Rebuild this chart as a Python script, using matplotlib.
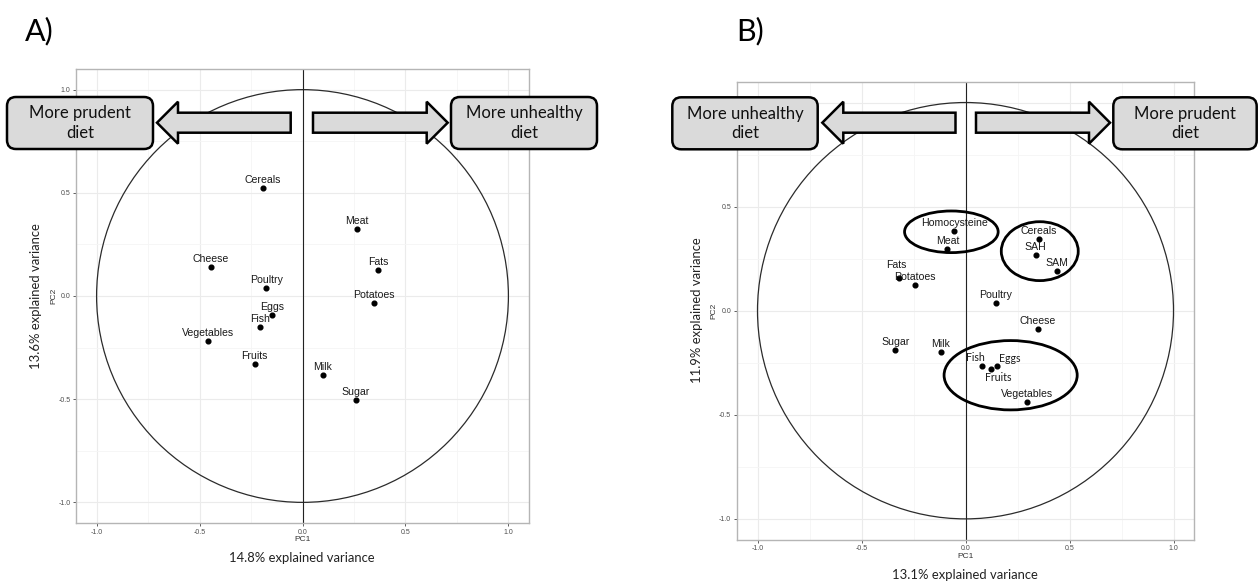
import numpy as np
import matplotlib
matplotlib.use("Agg")
import matplotlib.pyplot as plt
from matplotlib.patches import Circle, Ellipse, FancyBboxPatch, Polygon

# ---- data ----
foods_a = ["Cereals", "Meat", "Cheese", "Fats", "Poultry", "Potatoes",
           "Eggs", "Fish", "Vegetables", "Fruits", "Milk", "Sugar"]
pc1_a = [-0.194, 0.265, -0.445, 0.366, -0.176, 0.348,
         -0.147, -0.204, -0.460, -0.233, 0.099, 0.259]
pc2_a = [0.521, 0.324, 0.142, 0.126, 0.039, -0.034,
         -0.094, -0.149, -0.218, -0.330, -0.382, -0.505]

foods_b = ["Homocysteine", "Meat", "Cereals", "SAH", "SAM", "Fats", "Potatoes",
           "Poultry", "Cheese", "Sugar", "Milk", "Fish", "Fruits", "Eggs",
           "Vegetables"]
pc1_b = [-0.054, -0.087, 0.351, 0.337, 0.438, -0.321, -0.244,
         0.146, 0.349, -0.338, -0.119, 0.080, 0.123, 0.152, 0.298]
pc2_b = [0.385, 0.295, 0.346, 0.268, 0.191, 0.158, 0.125,
         0.037, -0.087, -0.190, -0.196, -0.268, -0.278, -0.268, -0.440]

# groups circled in panel B
ell_x = [-0.068, 0.357, 0.217]
ell_y = [0.379, 0.286, -0.310]
ell_w = [0.45, 0.37, 0.64]
ell_h = [0.20, 0.283, 0.333]

var_a = ("14.8% explained variance", "13.6% explained variance")
var_b = ("13.1% explained variance", "11.9% explained variance")
ticks = [-1.0, -0.5, 0.0, 0.5, 1.0]

W, H = 1258, 586
ARIAL = "Liberation Sans"
CALIBRI = "Lato"

fig = plt.figure(figsize=(W / 100, H / 100), dpi=100)


def fx(px):
    return px / W


def fy(py):
    return 1 - py / H


def loading_panel(rect, names, xs, ys, offsets=None, alt_font=()):
    ax = fig.add_axes(rect)
    ax.set_xlim(-1.1, 1.1)
    ax.set_ylim(-1.1, 1.1)
    ax.set_xticks(ticks)
    ax.set_yticks(ticks)
    ax.set_xticklabels([f"{t:.1f}" for t in ticks])
    ax.set_yticklabels([f"{t:.1f}" for t in ticks])
    ax.set_xticks([-0.75, -0.25, 0.25, 0.75], minor=True)
    ax.set_yticks([-0.75, -0.25, 0.25, 0.75], minor=True)
    ax.grid(True, which="major", color="#EBEBEB", lw=0.8)
    ax.grid(True, which="minor", color="#F5F5F5", lw=0.6)
    ax.set_axisbelow(True)
    ax.tick_params(which="major", length=2.5, width=0.6, color="#444444",
                   labelsize=5, labelcolor="#4D4D4D", pad=1.5)
    ax.tick_params(which="minor", length=0)
    for lab in ax.get_xticklabels() + ax.get_yticklabels():
        lab.set_family(ARIAL)
    for s in ax.spines.values():
        s.set_color("#B5B5B5")
        s.set_linewidth(1.0)
    ax.set_xlabel("PC1", fontsize=6, family=ARIAL, color="#333333", labelpad=0.5)
    ax.set_ylabel("PC2", fontsize=6, family=ARIAL, color="#333333", labelpad=1)

    ax.add_patch(Circle((0, 0), 1.0, fill=False, ec="#2B2B2B", lw=0.9, zorder=2))
    ax.axvline(0, color="#222222", lw=0.8, zorder=2)
    ax.plot(xs, ys, "o", color="black", ms=3.4, zorder=4)
    offsets = offsets or {}
    for n, x, y in zip(names, xs, ys):
        dx, dy = offsets.get(n, (0, 8))
        fam = CALIBRI if n in alt_font else ARIAL
        ax.annotate(n, (x, y), xytext=(dx, dy), textcoords="offset pixels",
                    ha="center", va="center", fontsize=7.6, family=fam,
                    color="#1A1A1A", zorder=5)
    return ax


ax_a = loading_panel([fx(76), fy(523), fx(529) - fx(76), fy(69) - fy(523)],
                     foods_a, pc1_a, pc2_a)

ax_b = loading_panel([fx(736.7), fy(539.7), fx(1194.3) - fx(736.7), fy(81.7) - fy(539.7)],
                     foods_b, pc1_b, pc2_b,
                     offsets={"Fats": (-2, 13), "Fish": (-7, 9), "Eggs": (13, 8), "Fruits": (7, -9)},
                     alt_font=("Fish", "Eggs", "Fruits"))
for cx, cy, w, h in zip(ell_x, ell_y, ell_w, ell_h):
    ax_b.add_patch(Ellipse((cx, cy), w, h, fill=False, ec="black", lw=2.0, zorder=3))

# explained-variance captions
cap = dict(ha="center", va="center", fontsize=9.4, family=CALIBRI, color="#222222")
fig.text(fx(302), fy(558), var_a[0], **cap)
fig.text(fx(36), fy(296), var_a[1], rotation=90, **cap)
fig.text(fx(965), fy(575), var_b[0], **cap)
fig.text(fx(697), fy(310), var_b[1], rotation=90, **cap)

fig.text(fx(25), fy(31), "A)", ha="left", va="center", fontsize=22, family=CALIBRI)
fig.text(fx(736), fy(31), "B)", ha="left", va="center", fontsize=22, family=CALIBRI)

# overlay in pixel space for the diet boxes and block arrows
ov = fig.add_axes([0, 0, 1, 1], zorder=10)
ov.set_xlim(0, W)
ov.set_ylim(H, 0)
ov.axis("off")
ov.patch.set_alpha(0)


def box(x, y, w, h, text):
    ov.add_patch(FancyBboxPatch((x, y), w, h, boxstyle="round,pad=0,rounding_size=9",
                                fc="#DADADA", ec="black", lw=1.8))
    ov.text(x + w / 2, y + h / 2, text, ha="center", va="center", fontsize=12,
            family=CALIBRI, linespacing=1.25, color="#111111")


def block_arrow(tail, tip, y, shaft=20, head=42, head_len=21):
    d = 1 if tip > tail else -1
    base = tip - d * head_len
    pts = [(tail, y - shaft / 2), (base, y - shaft / 2), (base, y - head / 2),
           (tip, y), (base, y + head / 2), (base, y + shaft / 2), (tail, y + shaft / 2)]
    ov.add_patch(Polygon(pts, closed=True, fc="#DADADA", ec="black", lw=1.8, joinstyle="miter"))


box(7, 97, 146, 52, "More prudent\ndiet")
box(451, 97, 146, 52, "More unhealthy\ndiet")
block_arrow(290.7, 157, 122.7)
block_arrow(313, 447.7, 122.7)

box(672.3, 97.3, 145.4, 52, "More unhealthy\ndiet")
box(1113.3, 97.3, 143.4, 52, "More prudent\ndiet")
block_arrow(955.5, 822.3, 122.7)
block_arrow(976, 1110, 122.7)

fig.savefig("out.png", dpi=100, facecolor="white")
